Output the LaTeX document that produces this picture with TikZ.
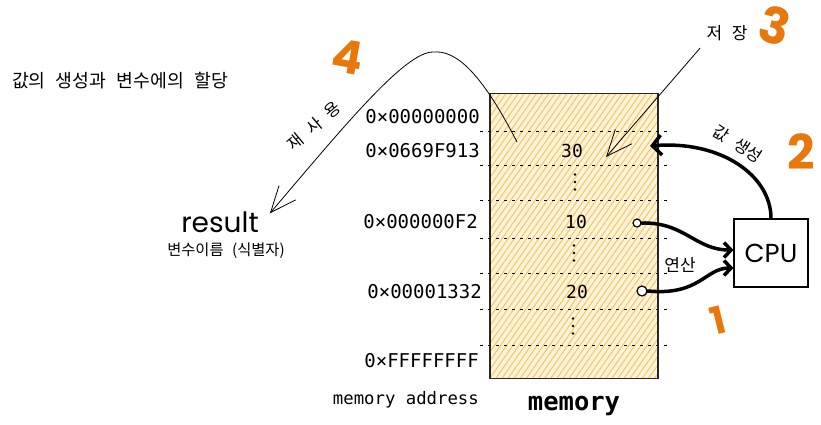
\documentclass[tikz,border=0pt]{standalone}
\usepackage{fontspec}
\setmainfont{Noto Sans CJK KR}[WordSpace=2.5]
\newfontfamily\codefont{DejaVu Sans Mono}
\newfontfamily\handfont{Poppins}
\usetikzlibrary{arrows.meta,patterns.meta}
\definecolor{numorange}{RGB}{232,119,12}
\definecolor{hatchline}{RGB}{250,196,96}
\definecolor{hatchbg}{RGB}{255,244,218}
\newcommand\fsz[1]{\fontsize{#1}{#1}\selectfont}
\tikzset{
	addr/.style={font=\codefont\fsz{19}, anchor=east, inner sep=0pt},
	val/.style={font=\codefont\fsz{18}, inner sep=0pt},
	kr/.style={inner sep=1pt},
	num/.style={text=numorange, font=\handfont\bfseries\fsz{#1}, inner sep=0pt},
	membox/.style={draw=black!85, line width=1.3pt, preaction={fill=hatchbg},
		pattern={Lines[angle=55,distance=5pt,line width=1pt]}, pattern color=hatchline,
		minimum width=168pt, minimum height=285pt},
	cpubox/.style={draw, line width=1.2pt, minimum width=74pt, minimum height=68pt, font=\handfont\fsz{26}},
	port/.style={circle, draw, fill=white, line width=1.2pt, inner sep=0pt, minimum size=#1},
	dotrow/.style={dash pattern=on 3pt off 5pt, line width=1pt},
	thinarrow/.style={line width=0.8pt, -{Straight Barb[length=26pt,width=22pt]}},
	bigarrow/.style={line width=3.5pt, line cap=round, -{Straight Barb[length=9pt,width=20pt]}},
	calcarrow/.style={line width=3.5pt, line cap=round, -{Straight Barb[length=7pt,width=15pt]}}
}
\begin{document}
\begin{tikzpicture}[x=1pt,y=-1pt]
	\useasboundingbox (0,0) rectangle (821,424);

	\node[kr, font=\fsz{18.3}] (title) at (120,81) {값의 생성과 변수에의 할당};

	\node[membox] (mem) at (574,236) {};
	\foreach \y in {131,165,200,238,273,309,345}{
		\draw[dotrow] (480,\y) -- (670,\y);
	}
	\foreach \x/\y in {575/182,574/253,573/326}{
		\foreach \d in {-7.5,0,7.5}{
			\fill (\x,\y+\d) circle (1.4);
		}
	}

	\node[addr] (a0) at (480,117) {0×00000000};
	\node[addr] (a1) at (480,151) {0×0669F913};
	\node[addr] (a2) at (478,222) {0×000000F2};
	\node[addr] (a3) at (482,292) {0×00001332};
	\node[addr] (a4) at (479,361) {0×FFFFFFFF};
	\node[font=\codefont\fsz{17.3}, anchor=base east, inner sep=0pt] (memaddr) at (479,404) {memory address};
	\node[font=\codefont\bfseries\fsz{25.5}, anchor=base, inner sep=0pt] (memlabel) at (574,410) {memory};

	\node[val] (v30) at (572,151) {30};
	\node[val] (v10) at (576,222) {10};
	\node[val] (v20) at (577,292) {20};
	\node[port=8pt] (c10) at (637,223) {};
	\node[port=10pt] (c20) at (642,291) {};

	\node[cpubox] (cpu) at (771,253) {CPU};
	\node[kr, font=\fsz{17}] (calc) at (680,265) {연산};
	\node[kr, font=\fsz{16.5}, rotate=-33] (gen) at (738,144) {값 생성};
	\node[kr, font=\fsz{17}] (store) at (727,33) {저 장};
	\node[kr, font=\fsz{16.5}, rotate=40] (reuse) at (314,126) {재 사 용};

	\node[font=\handfont\fsz{28}, inner sep=1pt] (result) at (220,222) {result};
	\node[kr, font=\fsz{15.3}] (resultsub) at (226,251) {변수이름 (식별자)};

	\node[num=38] (n1) at (718,320) [rotate=14] {1};
	\node[num=48] (n2) at (801,152) {2};
	\node[num=50] (n3) at (775,26) [rotate=-15] {3};
	\node[num=46] (n4) at (348,57) [rotate=-10] {4};

	\coordinate (gento) at (650,146);
	\coordinate (storeto) at (606,157);
	\coordinate (reusefrom) at (517,142);

	\draw[calcarrow] (c10.east) .. controls (685,222) and (695,250) .. ([yshift=3pt]cpu.west);
	\draw[calcarrow] (c20.east) .. controls (700,296) and (705,268) .. ([yshift=-15pt]cpu.west);
	\draw[bigarrow] (cpu.north) .. controls (771,175) and (720,140) .. (gento);
	\draw[thinarrow, shorten <=8pt] (store.south west) -- (storeto);
	\draw[thinarrow] (reusefrom) .. controls (480,70) and (455,50) .. (433,52)
		.. controls (405,52) and (345,125) .. ([xshift=10pt,yshift=-3pt]result.north east);
\end{tikzpicture}
\end{document}
